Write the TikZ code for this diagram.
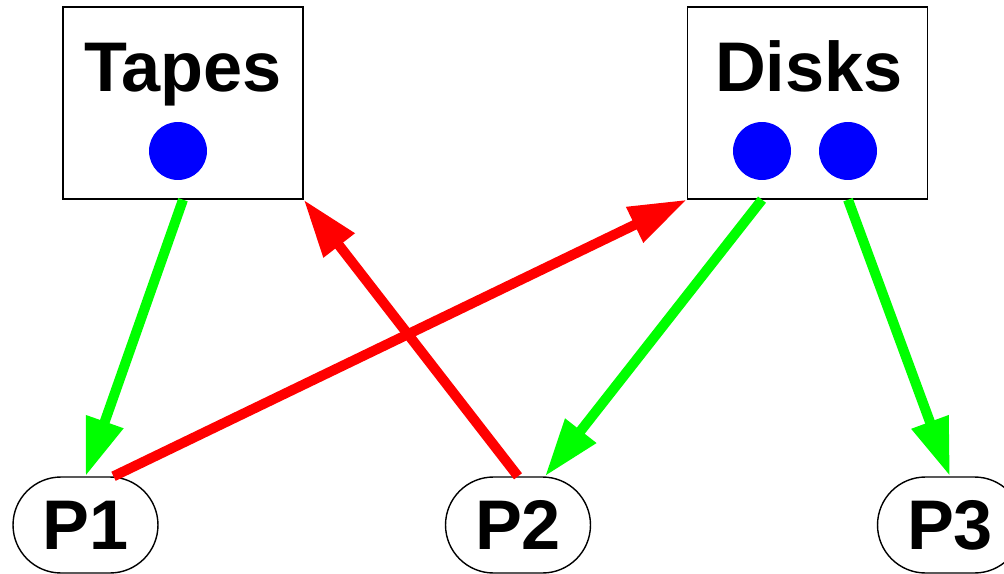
\documentclass[tikz,border=0pt]{standalone}
\usepackage{fontspec}
\setmainfont{Liberation Sans}
\usetikzlibrary{positioning, arrows.meta, shapes.misc}

\begin{document}
\begin{tikzpicture}[x=0.02cm, y=-0.02cm]
		\tikzset{
			>={Triangle[length=1.16cm, width=0.74cm]},
			store/.style={draw, line width=0.8pt, minimum width=4.8cm, minimum height=3.84cm},
			proc/.style={draw, rounded rectangle, line width=0.8pt, minimum width=2.9cm, minimum height=1.92cm, inner sep=0pt},
			unit/.style={circle, fill=blue, minimum size=1.16cm, inner sep=0pt},
			grant/.style={->, line width=5.7pt, draw=green},
			request/.style={->, line width=5.7pt, draw=red},
			every node/.style={font=\fontsize{40}{48}\selectfont\bfseries}
		}
		\useasboundingbox (0,0) rectangle (1004,574);
		
		% Resource classes
		\node[store] (tapes) at (183,103) {};
		\node[store] (disks) at (807.5,103) {};
		\node[anchor=base] (tapes-name) at (183,92) {Tapes};
		\node[anchor=base] (disks-name) at (809,92) {Disks};
		
		% Resource instances
		\node[unit] (tape1) at (178,151) {};
		\node[unit] (disk1) at (762,151) {};
		\node[unit] (disk2) at (848,151) {};
		
		% Processes
		\node[proc] (p1) at (85.5,525) {P1};
		\node[proc] (p2) at (518,525) {P2};
		\node[proc] (p3) at (950,525) {P3};
		
		% Assignment edges
		\draw[grant] (tapes.south) -- (p1.north);
		\draw[grant] (disk1 |- disks.south) -- ([xshift=0.54cm]p2.north);
		\draw[grant] (disk2 |- disks.south) -- (p3.north);
		
		% Request edges
		\draw[request] ([xshift=0.56cm]p1.north) -- (disks.south west);
		\draw[request] (p2.north) -- (tapes.south east);
		
	\end{tikzpicture}
\end{document}
